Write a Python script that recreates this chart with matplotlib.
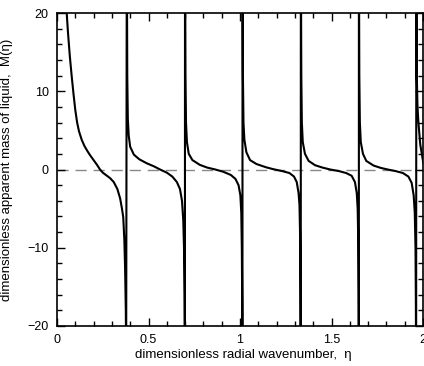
import matplotlib
matplotlib.use("Agg")
import matplotlib.pyplot as plt
from matplotlib.ticker import MultipleLocator

plt.rcParams['font.family'] = ['Liberation Sans', 'DejaVu Sans']

# Digitised branches of M(eta); values beyond +/-20 run off the frame
eta0 = [0.046, 0.053, 0.06, 0.07, 0.08, 0.09, 0.10, 0.11, 0.12, 0.135, 0.15, 0.165, 0.18, 0.20, 0.22, 0.235, 0.25, 0.27, 0.29, 0.31, 0.33, 0.345, 0.355, 0.362, 0.368, 0.372, 0.376, 0.378]
m0 = [26, 20, 17.5, 14.5, 12, 9.7, 7.6, 6.0, 4.9, 3.8, 3.0, 2.4, 1.85, 1.2, 0.55, 0.0, -0.4, -0.75, -1.1, -1.6, -2.5, -3.7, -5.0, -6.1, -9.0, -12.5, -18, -24]

eta1 = [0.3815, 0.384, 0.387, 0.392, 0.40, 0.42, 0.45, 0.49, 0.53, 0.563, 0.60, 0.63, 0.655, 0.672, 0.683, 0.69, 0.694, 0.697, 0.699]
m1 = [30, 12, 6.5, 4.3, 2.9, 1.9, 1.3, 0.8, 0.4, 0.0, -0.4, -0.9, -1.6, -2.5, -4.0, -6.5, -10, -16, -25]

eta2 = [0.6995, 0.702, 0.705, 0.71, 0.72, 0.74, 0.78, 0.82, 0.865, 0.91, 0.95, 0.975, 0.992, 1.002, 1.007, 1.01, 1.012, 1.0135]
m2 = [30, 12, 6, 3.5, 2.0, 1.2, 0.6, 0.25, 0.0, -0.3, -0.7, -1.2, -2.0, -3.3, -5.5, -10, -17, -28]

eta3 = [1.0137, 1.016, 1.019, 1.024, 1.035, 1.055, 1.09, 1.14, 1.18, 1.23, 1.27, 1.295, 1.31, 1.32, 1.325, 1.328, 1.33, 1.332]
m3 = [30, 12, 6, 3.8, 2.2, 1.2, 0.7, 0.3, 0.05, -0.2, -0.45, -0.9, -1.6, -3.0, -4.5, -8, -15, -28]

eta4 = [1.3325, 1.335, 1.338, 1.343, 1.355, 1.375, 1.41, 1.45, 1.493, 1.54, 1.58, 1.61, 1.628, 1.638, 1.643, 1.646, 1.648, 1.6495]
m4 = [30, 12, 6, 3.5, 2.0, 1.1, 0.55, 0.25, 0.0, -0.2, -0.45, -0.8, -1.6, -3.0, -5, -9, -16, -28]

eta5 = [1.6497, 1.652, 1.655, 1.66, 1.672, 1.69, 1.73, 1.77, 1.807, 1.85, 1.89, 1.92, 1.938, 1.949, 1.955, 1.959, 1.961, 1.9625]
m5 = [30, 12, 6, 3.5, 2.0, 1.1, 0.5, 0.2, 0.0, -0.2, -0.45, -0.9, -1.7, -3.3, -5.5, -10, -17, -28]

eta6 = [1.9635, 1.966, 1.97, 1.975, 1.985, 2.002]
m6 = [30, 12, 8, 6, 3.2, 0.8]

xticks = [0, 0.5, 1, 1.5, 2]
xticklabels = ['0', '0.5', '1', '1.5', '2']
yticks = [-20, -10, 0, 10, 20]

eta = eta0 + eta1 + eta2 + eta3 + eta4 + eta5 + eta6
m = m0 + m1 + m2 + m3 + m4 + m5 + m6

fig = plt.figure(figsize=(4.24, 3.66), dpi=100)
ax = fig.add_axes([57/424, 40/366, 366/424, 313/366])

ax.axhline(0, color='#888888', lw=1.0, dashes=(8, 5), zorder=1)
ax.plot(eta, m, color='black', lw=1.5, zorder=2)

ax.set_xlim(0, 2)
ax.set_ylim(-20, 20)
ax.set_xticks(xticks)
ax.set_xticklabels(xticklabels)
ax.set_yticks(yticks)
ax.xaxis.set_minor_locator(MultipleLocator(0.1))
ax.yaxis.set_minor_locator(MultipleLocator(2))
ax.tick_params(which='both', direction='in', top=True, right=True, labelsize=9, width=1)
ax.tick_params(which='major', length=6, pad=6)
ax.tick_params(which='minor', length=3.5)
for s in ax.spines.values():
    s.set_linewidth(1.2)

ax.set_xlabel('dimensionless radial wavenumber,  \u03b7', fontsize=9.5)
ax.set_ylabel('dimensionless apparent mass of liquid,  M(\u03b7)', fontsize=9.5)
ax.xaxis.set_label_coords(0.51, -0.075)
ax.yaxis.set_label_coords(-0.12, 0.5)

fig.savefig('out.png', dpi=100)
